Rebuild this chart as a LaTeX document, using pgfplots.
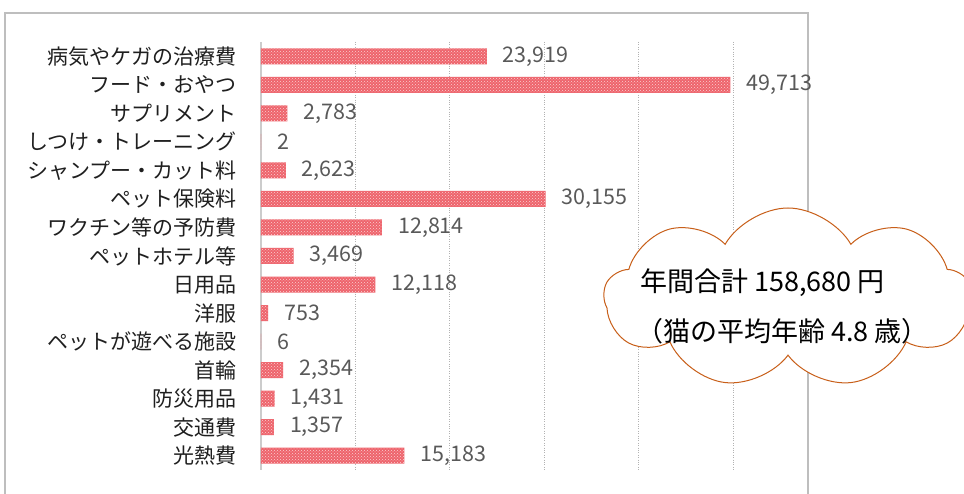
\documentclass[border=0pt]{standalone}
\usepackage{fontspec}
\setmainfont{Noto Sans CJK JP}
\usepackage{pgfplots}
\pgfplotsset{compat=1.18}
\usepackage{pgfplotstable}
\usetikzlibrary{patterns,shapes.symbols}
\definecolor{barred}{RGB}{238,100,108}
\definecolor{cloudor}{RGB}{200,95,25}
\definecolor{valgray}{RGB}{89,89,89}
\definecolor{framegray}{RGB}{190,190,190}

\pgfplotstableread{
y x label
0 23919 23,919
1 49713 49,713
2 2783 2,783
3 2 2
4 2623 2,623
5 30155 30,155
6 12814 12,814
7 3469 3,469
8 12118 12,118
9 753 753
10 6 6
11 2354 2,354
12 1431 1,431
13 1357 1,357
14 15183 15,183
}\datatable

\begin{document}
\begin{tikzpicture}[x=1pt,y=1pt]
\useasboundingbox (0,0) rectangle (964,494);
\fill[white] (0,0) rectangle (964,494);
\draw[color=framegray, line width=1.3pt] (5,-10) -- (5,481) -- (808,481) -- (808,-10);
\begin{axis}[
  at={(261pt,24pt)}, anchor=south west,
  scale only axis, width=472pt, height=428pt,
  xmin=0, xmax=50000, ymin=-0.5, ymax=14.5, y dir=reverse,
  xbar, bar width=16pt,
  axis line style={draw=none},
  tick style={draw=none},
  scaled x ticks=false,
  xtick={10000,20000,30000,40000,50000}, xticklabels={},
  xmajorgrids,
  major grid style={dotted, gray!60, line width=0.7pt},
  extra x ticks={0}, extra x tick labels={},
  extra x tick style={grid=major, major grid style={solid, gray!40, line width=1.2pt}},
  ytick={0,...,14},
  yticklabels={病気やケガの治療費,フード・おやつ,サプリメント,しつけ・トレーニング,シャンプー・カット料,ペット保険料,ワクチン等の予防費,ペットホテル等,日用品,洋服,ペットが遊べる施設,首輪,防災用品,交通費,光熱費},
  yticklabel style={font=\fontsize{21}{24}\selectfont, text=black!88, inner sep=0pt, xshift=-20pt},
  nodes near coords,
  point meta=explicit symbolic,
  nodes near coords style={font=\fontsize{21.5}{24}\selectfont, text=valgray, anchor=west, inner sep=0pt, xshift=16pt},
  clip=false,
]
\addplot[draw=none, fill=barred, postaction={pattern=crosshatch dots, pattern color=white!70!barred}] table[x=x,y=y,meta=label]{\datatable};
\end{axis}
\node[cloud, cloud puffs=9, cloud puff arc=120, aspect=2.05, draw=cloudor, line width=1pt, fill=white, minimum width=368pt, minimum height=180pt, inner sep=0pt] at (788,196) {};
\node[anchor=west, inner sep=0pt, font=\fontsize{27}{30}\selectfont] at (640,211) {年間合計 158,680 円};
\node[anchor=west, inner sep=0pt, font=\fontsize{27}{30}\selectfont] at (636,163) {（猫の平均年齢 4.8 歳）};
\end{tikzpicture}
\end{document}
